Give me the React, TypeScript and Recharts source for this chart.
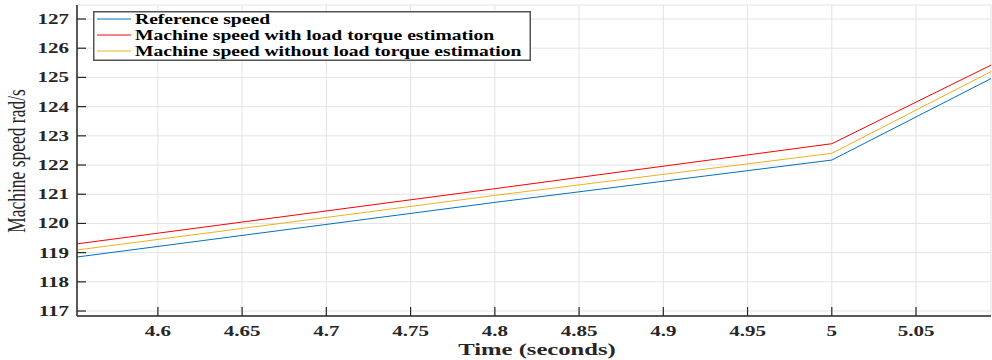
import React from "react";
import { LineChart, Line, XAxis, YAxis, CartesianGrid, Legend } from "recharts";

const timeS = [4.552, 4.8, 5.0, 5.0945];
const referenceSpeed = [118.85, 120.72, 122.17, 124.96];
const speedWithEst = [119.3, 121.19, 122.73, 125.42];
const speedWithoutEst = [119.09, 120.96, 122.4, 125.2];

const xTicks = [4.6, 4.65, 4.7, 4.75, 4.8, 4.85, 4.9, 4.95, 5, 5.05];
const xTickLabels = ["4.6", "4.65", "4.7", "4.75", "4.8", "4.85", "4.9", "4.95", "5", "5.05"];
const yTicks = [117, 118, 119, 120, 121, 122, 123, 124, 125, 126, 127];

const seriesNames = [
  "Reference speed",
  "Machine speed with load torque estimation",
  "Machine speed without load torque estimation",
];
const seriesColors = ["#0072BD", "#FF0000", "#EDB120"];
const seriesKeys = ["ref", "withEst", "withoutEst"];

const data = timeS.map((t, i) => ({
  t,
  ref: referenceSpeed[i],
  withEst: speedWithEst[i],
  withoutEst: speedWithoutEst[i],
}));

const FONT = "Liberation Serif, Times New Roman, serif";
const AXIS = "#262626";
const TL = 9;
const SX = 1.45;

const SText = ({ x, y, anchor, size, weight, children, fill }: any) => (
  <text
    transform={`translate(${x},${y}) scale(${SX},1)`}
    textAnchor={anchor}
    fontFamily={FONT}
    fontWeight={weight}
    fontSize={size}
    fill={fill || AXIS}
  >
    {children}
  </text>
);

const BottomTick = (props: any) => {
  const { x, y, payload } = props;
  const idx = xTicks.indexOf(payload.value);
  return (
    <g>
      <line x1={x} y1={y} x2={x} y2={y - TL} stroke={AXIS} strokeWidth={1.2} />
      <SText x={x} y={y + 20} anchor="middle" size={14.5} weight="bold">
        {idx >= 0 ? xTickLabels[idx] : String(payload.value)}
      </SText>
    </g>
  );
};

const TopTick = (props: any) => {
  const { x, y } = props;
  return <line x1={x} y1={y} x2={x} y2={y + TL} stroke={AXIS} strokeWidth={1.2} />;
};

const LeftTick = (props: any) => {
  const { x, y, payload } = props;
  return (
    <g>
      <line x1={x} y1={y} x2={x + TL} y2={y} stroke={AXIS} strokeWidth={1.2} />
      <SText x={x - 8} y={y + 5} anchor="end" size={14.5} weight="bold">
        {String(payload.value)}
      </SText>
    </g>
  );
};

const RightTick = (props: any) => {
  const { x, y } = props;
  return <line x1={x} y1={y} x2={x - TL} y2={y} stroke={AXIS} strokeWidth={1.2} />;
};

const YLabel = () => (
  <text
    transform={`translate(25,161) scale(${SX},1) rotate(-90)`}
    textAnchor="middle"
    fontFamily={FONT}
    fontSize={17.5}
    fill={AXIS}
  >
    Machine speed rad/s
  </text>
);

const XLabel = () => (
  <text
    transform={`translate(537,355) scale(${SX},1)`}
    textAnchor="middle"
    fontFamily={FONT}
    fontWeight="bold"
    fontSize={17}
    fill={AXIS}
  >
    Time (seconds)
  </text>
);

const LegendBox = () => (
  <svg width={438} height={50} style={{ display: "block" }}>
    <rect x={0.75} y={0.75} width={436.5} height={48.5} fill="#fff" stroke="#555" strokeWidth={1.5} />
    {seriesNames.map((n, i) => (
      <g key={n}>
        <line x1={4} x2={38} y1={8 + i * 16} y2={8 + i * 16} stroke={seriesColors[i]} strokeWidth={1} />
        <text
          transform={`translate(42,${13 + i * 16}) scale(1.4,1)`}
          fontFamily={FONT}
          fontWeight="bold"
          fontSize={14}
          fill="#000"
        >
          {n}
        </text>
      </g>
    ))}
  </svg>
);

export default function App() {
  return (
    <div style={{ position: "absolute", left: 0, top: 0, width: 992, height: 360, background: "#fff" }}>
      <LineChart width={992} height={360} data={data} margin={{ top: 5, right: 1, bottom: 0, left: 0 }}>
        <CartesianGrid stroke="#e3e3e3" strokeWidth={1} />
        <XAxis
          dataKey="t"
          type="number"
          domain={[4.552, 5.0945]}
          ticks={xTicks}
          allowDataOverflow
          height={44}
          tickSize={0}
          tickMargin={0}
          tick={<BottomTick />}
          axisLine={{ stroke: AXIS, strokeWidth: 1.5 }}
          interval={0}
          label={<XLabel />}
        />
        <XAxis
          xAxisId="top"
          orientation="top"
          dataKey="t"
          type="number"
          domain={[4.552, 5.0945]}
          ticks={xTicks}
          allowDataOverflow
          height={0}
          tickSize={0}
          tickMargin={0}
          tick={<TopTick />}
          axisLine={{ stroke: AXIS, strokeWidth: 1.5 }}
          interval={0}
        />
        <YAxis
          type="number"
          domain={[116.83, 127.48]}
          ticks={yTicks}
          allowDataOverflow
          width={77}
          tickSize={0}
          tickMargin={0}
          tick={<LeftTick />}
          axisLine={{ stroke: AXIS, strokeWidth: 1.5 }}
          interval={0}
          label={<YLabel />}
        />
        <YAxis
          yAxisId="right"
          orientation="right"
          type="number"
          domain={[116.83, 127.48]}
          ticks={yTicks}
          allowDataOverflow
          width={0}
          tickSize={0}
          tickMargin={0}
          tick={<RightTick />}
          axisLine={{ stroke: AXIS, strokeWidth: 1.5 }}
          interval={0}
        />
        {seriesKeys.map((k, i) => (
          <Line
            key={k}
            dataKey={k}
            name={seriesNames[i]}
            stroke={seriesColors[i]}
            strokeWidth={1}
            dot={false}
            activeDot={false}
            isAnimationActive={false}
            type="linear"
          />
        ))}
        <Legend
          layout="horizontal"
          verticalAlign="middle"
          align="center"
          content={<LegendBox />}
          wrapperStyle={{ position: "absolute", left: 93, top: 11, width: "auto", height: "auto" }}
        />
      </LineChart>
    </div>
  );
}
